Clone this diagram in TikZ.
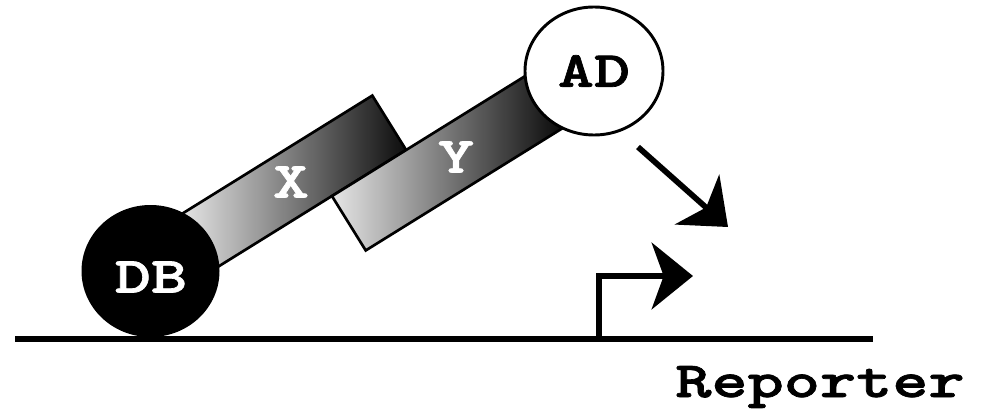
\documentclass[tikz,border=0pt]{standalone}
\usepackage{fontspec}
\usetikzlibrary{arrows.meta,shapes.geometric}
\newfontfamily\labfont{lmmonolt10-bold.otf}[FakeStretch=1.36, FakeBold=1.4]
\tikzset{
  lab/.style={font=\labfont\fontsize{38}{40}\selectfont, inner sep=0pt},
  bar/.style={draw=black, line width=2pt, inner sep=0pt, minimum height=48pt},
  thick arrow/.style={line width=4.3pt, -{Stealth[length=31pt, width=50pt, inset=9pt]}},
}
\begin{document}
\begin{tikzpicture}[x=0.75pt, y=-0.75pt]
\useasboundingbox (0,0) rectangle (982,410);
% baseline
\coordinate (l0) at (15,339);
\coordinate (l1) at (873,339);
\draw[line width=4.3pt] (l0) -- (l1);
% bars
\node[bar, rotate=31.85, minimum width=173.25pt, left color=black!8, right color=black!95] (xbar) at (291.1,183.7) {};
\node[bar, rotate=31.85, minimum width=182.7pt, left color=black!10, right color=black] (ybar) at (452.3,159.0) {};
% circles
\node[ellipse, fill=black, minimum width=103.5pt, minimum height=99pt, inner sep=0pt] (db) at (150.5,271) {};
\node[ellipse, draw=black, line width=2.2pt, fill=white, minimum width=103.5pt, minimum height=96pt, inner sep=0pt] (ad) at (594,71) {};
% labels
\node[lab, text=white] (dbt) at (151,277) {DB};
\node[lab, text=black] (adt) at (594,71) {AD};
\node[lab, text=white] (xt) at (291,182) {X};
\node[lab, text=white] (yt) at (456,157) {Y};
\node[lab, anchor=base] (rep) at (820,397) {Reporter};
% activation arrow
\coordinate (a0) at (638,147);
\coordinate (a1) at (728,227);
\draw[thick arrow] (a0) -- (a1);
% promoter arrow
\coordinate (p0) at (599,339);
\coordinate (p1) at (693,276);
\draw[thick arrow] (p0) |- (p1);
\end{tikzpicture}
\end{document}
